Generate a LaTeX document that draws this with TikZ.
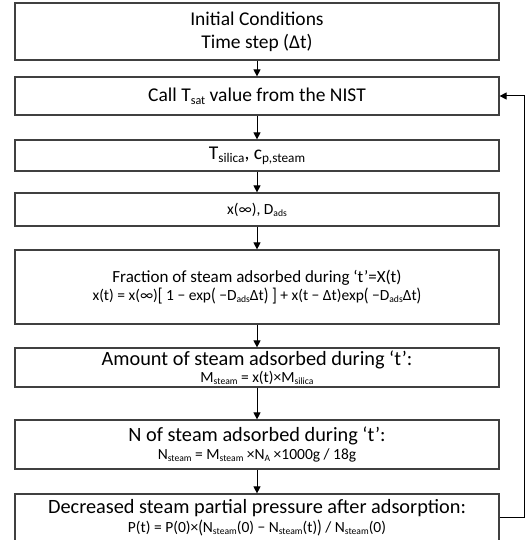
\documentclass[tikz,border=0pt]{standalone}
\usepackage{fontspec}
\setmainfont{Carlito}
\usepackage{graphicx}
\usetikzlibrary{arrows.meta}

\newcommand{\sbs}[2][0.62]{\raisebox{-0.3ex}{\scalebox{#1}{#2}}}
\newcommand{\tall}[1]{\raisebox{-0.08em}{\scalebox{1}[1.2]{#1}}}
\newcommand{\eqsz}{\fontsize{15.5}{17}\selectfont}
\newcommand{\headsz}{\fontsize{20.3}{22}\selectfont}

\tikzset{
  stepbox/.style={draw=black!75, line width=1.2pt, minimum width=484pt,
    inner sep=0pt, align=center, font=\fontsize{19.5}{23}\selectfont},
  flow/.style={-{Triangle[length=7pt,width=7pt]}, line width=1pt},
}

\begin{document}
\begin{tikzpicture}[x=1pt,y=-1pt]
    \useasboundingbox (0,0) rectangle (526,540);

    % steps of the loop
    \node[stepbox, minimum height=57pt] (init) at (257,31.5) {Initial Conditions\\Time step (Δt)};
    \node[stepbox, minimum height=38pt] (tsat) at (257,96) {Call T\sbs{sat} value from the NIST};
    \node[stepbox, minimum height=31pt] (temp) at (257,155.5) {T\sbs[0.68]{silica}, c\sbs[0.68]{p,steam}};
    \node[stepbox, minimum height=33pt, font=\fontsize{15.5}{17}\selectfont] (xinf) at (257,209.5) {x(∞), D\sbs{ads}};
    \node[stepbox, minimum height=74pt, font=\fontsize{17}{20}\selectfont] (frac) at (257,287)
      {Fraction of steam adsorbed during ‘t’=X(t)\\[-2pt]
       {\eqsz x(t) = x(∞)\tall{[} 1 − exp\tall{(} −D\sbs{ads}Δt\tall{)} \tall{]} + x(t − Δt)exp\tall{(} −D\sbs{ads}Δt\tall{)}}};
    \node[stepbox, minimum height=39pt] (mass) at (257,367.5)
      {{\headsz Amount of steam adsorbed during ‘t’:}\\[-6pt]
       {\eqsz M\sbs{steam} = x(t)×M\sbs{silica}}};
    \node[stepbox, minimum height=49pt] (num) at (257,444.5)
      {{\headsz N of steam adsorbed during ‘t’:}\\[-5pt]
       {\eqsz N\sbs{steam} = M\sbs{steam} ×N\sbs{A} ×1000g / 18g}};
    \node[stepbox, minimum height=47pt] (press) at (257,517.5)
      {{\headsz Decreased steam partial pressure after adsorption:}\\[-4pt]
       {\eqsz P(t) = P(0)×\tall{(}N\sbs{steam}(0) − N\sbs{steam}(t)\tall{)} / N\sbs{steam}(0)}};

    % arrows down
    \draw[flow] (init) -- (tsat);
    \draw[flow] (tsat) -- (temp);
    \draw[flow] (temp) -- (xinf);
    \draw[flow] (xinf) -- (frac);
    \draw[flow] (frac) -- (mass);
    \draw[flow] (mass) -- (num);
    \draw[flow] (num) -- (press);

    % back to the next time step
    \draw[flow] (press.east) -- ++(25,0) |- (tsat.east);
\end{tikzpicture}
\end{document}
